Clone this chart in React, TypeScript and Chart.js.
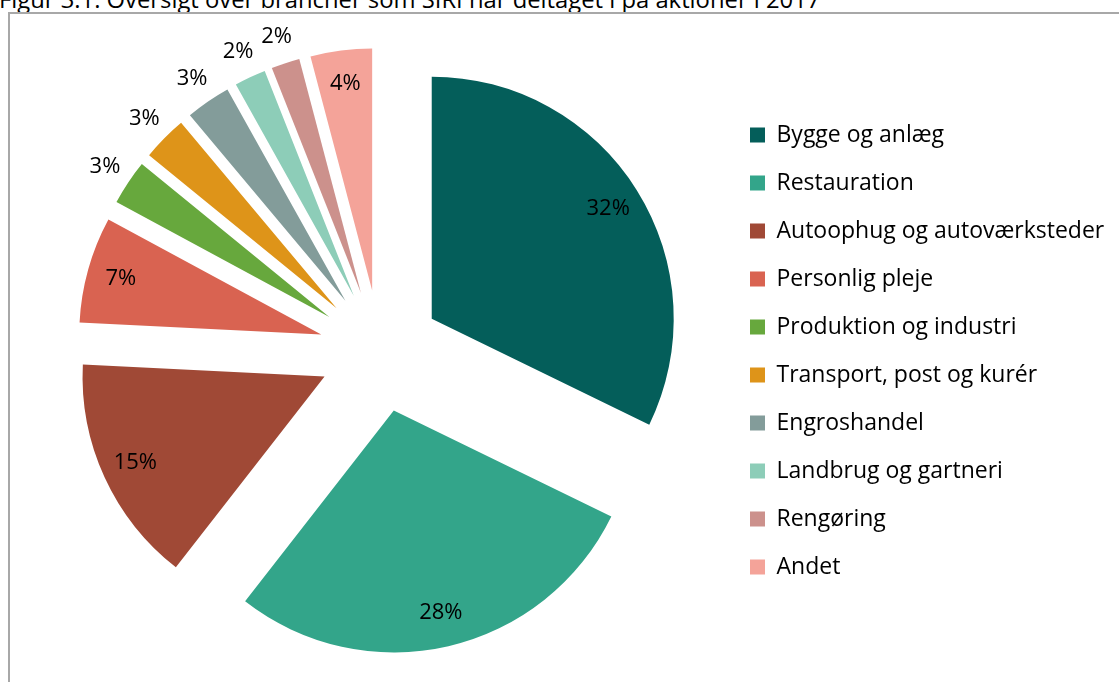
import React, { useEffect, useRef } from "react";
import { Chart, ArcElement, registerables } from "chart.js";

Chart.register(...registerables);

const titleText = "Figur 3.1: Oversigt over brancher som SIRI har deltaget i på aktioner i 2017";

const categories = [
  "Bygge og anlæg",
  "Restauration",
  "Autoophug og autoværksteder",
  "Personlig pleje",
  "Produktion og industri",
  "Transport, post og kurér",
  "Engroshandel",
  "Landbrug og gartneri",
  "Rengøring",
  "Andet",
];

const shares = [32.2, 28.3, 15.25, 7.1, 3.0, 3.0, 3.0, 2.1, 1.9, 4.1];

const sliceColors = [
  "#045E5A",
  "#33A58A",
  "#A04936",
  "#D96351",
  "#67A83D",
  "#DE9419",
  "#839C9A",
  "#8DCDB8",
  "#CC918C",
  "#F4A399",
];

const FONT_FAMILY = "'Open Sans'";
const LEGEND_FONT = 23;
const LABEL_FONT = 22;
const LEGEND_PAD = 25;
const LEGEND_BOX = 15;
const BOX_LEFT = 750;
const PIE_CX = 380;
const PIE_RADIUS = 242;
const EXPLODE = 61;

// Shift each slice outward along its bisector (uniform explosion, no radius change)
const explodePlugin = {
  id: "explodeSlices",
  beforeDatasetsDraw(chart: any) {
    const meta = chart.getDatasetMeta(0);
    meta.data.forEach((arc: any) => {
      if (arc.__exploded) return;
      arc.__exploded = true;
      const baseDraw = ArcElement.prototype.draw;
      arc.draw = function (ctx: CanvasRenderingContext2D) {
        const mid = (this.startAngle + this.endAngle) / 2;
        ctx.save();
        ctx.translate(Math.cos(mid) * EXPLODE, Math.sin(mid) * EXPLODE);
        baseDraw.call(this, ctx);
        ctx.restore();
      };
    });
  },
};

const pctLabels = {
  id: "pctLabels",
  afterDatasetsDraw(chart: any) {
    const meta = chart.getDatasetMeta(0);
    const data = chart.data.datasets[0].data as number[];
    const total = data.reduce((a, b) => a + b, 0);
    const ctx = chart.ctx;
    ctx.save();
    ctx.font = `${LABEL_FONT}px ${FONT_FAMILY}`;
    ctx.fillStyle = "#000000";
    ctx.textAlign = "center";
    ctx.textBaseline = "middle";
    meta.data.forEach((arc: any, i: number) => {
      const p = arc.getProps(["x", "y", "startAngle", "endAngle", "outerRadius"], true);
      const mid = (p.startAngle + p.endAngle) / 2;
      const pct = (data[i] / total) * 100;
      const r = pct < 3.5 ? p.outerRadius + 28 : p.outerRadius * 0.86;
      const d = EXPLODE + r;
      ctx.fillText(`${Math.round(pct)}%`, p.x + Math.cos(mid) * d, p.y + Math.sin(mid) * d);
    });
    ctx.restore();
  },
};

export default function App() {
  const canvasRef = useRef<HTMLCanvasElement | null>(null);

  useEffect(() => {
    const canvas = canvasRef.current;
    if (!canvas) return;

    const mctx = document.createElement("canvas").getContext("2d")!;
    mctx.font = `${LEGEND_FONT}px ${FONT_FAMILY}`;
    const maxText = Math.max(...categories.map((c) => mctx.measureText(c).width));
    const colWidth = LEGEND_BOX + LEGEND_FONT / 2 + maxText;
    const legendLeft = BOX_LEFT - LEGEND_PAD;
    const legendWidth = LEGEND_PAD + colWidth + 10;
    const canvasW = Math.ceil(legendLeft + legendWidth);
    const padRight = canvasW - (legendLeft + legendWidth);
    const padLeft = 2 * PIE_CX - legendLeft;

    canvas.width = canvasW;
    canvas.height = 682;
    canvas.style.width = canvasW + "px";
    canvas.style.height = "682px";

    Chart.defaults.font.family = FONT_FAMILY;

    const chart = new Chart(canvas, {
      type: "pie",
      data: {
        labels: categories,
        datasets: [
          {
            data: shares,
            backgroundColor: sliceColors,
            borderWidth: 0,
            offset: 0,
            hoverOffset: 0,
            radius: PIE_RADIUS,
            clip: false,
          } as any,
        ],
      },
      options: {
        animation: false,
        responsive: false,
        devicePixelRatio: 1,
        events: [],
        layout: { padding: { left: padLeft, right: padRight, top: 20, bottom: 0 } },
        plugins: {
          tooltip: { enabled: false },
          title: { display: false },
          legend: {
            display: true,
            position: "right",
            align: "center",
            labels: {
              boxWidth: LEGEND_BOX,
              boxHeight: LEGEND_BOX,
              padding: LEGEND_PAD,
              color: "#000000",
              font: { size: LEGEND_FONT, family: FONT_FAMILY },
            },
          },
        },
      },
      plugins: [explodePlugin, pctLabels],
    });
    return () => chart.destroy();
  }, []);

  return (
    <div
      style={{
        position: "fixed",
        left: 0,
        top: 0,
        width: 1119,
        height: 682,
        overflow: "hidden",
        background: "#ffffff",
      }}
    >
      <div
        style={{
          position: "absolute",
          left: -1,
          top: -12,
          fontFamily: FONT_FAMILY,
          fontSize: 23.8,
          lineHeight: "22px",
          whiteSpace: "nowrap",
          color: "#000",
        }}
      >
        {titleText}
      </div>
      <div
        style={{
          position: "absolute",
          left: 8,
          top: 12,
          width: 1300,
          height: 900,
          borderTop: "2px solid #a8a8a8",
          borderLeft: "2px solid #a8a8a8",
        }}
      />
      <canvas ref={canvasRef} style={{ position: "absolute", left: 0, top: 0 }} />
    </div>
  );
}
